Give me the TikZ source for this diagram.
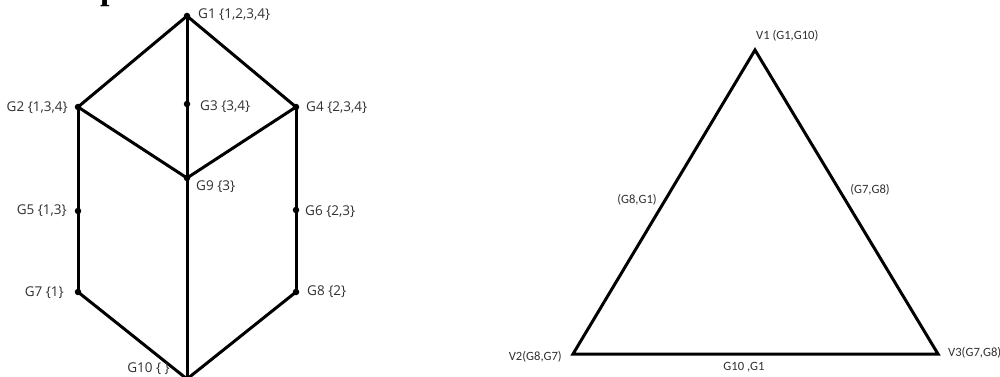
\documentclass[tikz,border=0pt]{standalone}
\usepackage{fontspec}
\setmainfont{Liberation Serif}
\newfontfamily\lblfont{Open Sans}
\newfontfamily\trifont{Carlito}
\definecolor{txt}{HTML}{303030}
\begin{document}
\begin{tikzpicture}[x=1pt,y=-1pt,
  edge/.style={line width=3pt,line cap=round,line join=round,black},
  vdot/.style={circle,fill=black,inner sep=0pt,minimum size=6.5pt},
  glbl/.style={inner sep=0pt,text=txt,font=\lblfont\fontsize{13.5}{16}\selectfont},
  tlbl/.style={inner sep=0pt,text=txt,font=\trifont\fontsize{12.6}{15}\selectfont}]
\useasboundingbox (0,0) rectangle (1000,377);
\clip (0,0) rectangle (1000,377);
% cut-off heading fragment
\node[anchor=base west,inner sep=0pt,font=\bfseries\fontsize{34}{40}\selectfont] (head) at (100,0) {p};
% left graph vertices
\node[vdot] (G1) at (187,16) {};
\node[vdot] (G2) at (78,107) {};
\node[vdot] (G3) at (187,104) {};
\node[vdot] (G4) at (296,107) {};
\node[vdot] (G9) at (187,178) {};
\node[vdot] (G5) at (78,211) {};
\node[vdot] (G6) at (296,210) {};
\node[vdot] (G7) at (78,292) {};
\node[vdot] (G8) at (296,292) {};
\coordinate (G10) at (187,379);
% edges
\draw[edge] (G1.center) -- (G2.center);
\draw[edge] (G1.center) -- (G4.center);
\draw[edge] (G1.center) -- (G3.center) -- (G9.center);
\draw[edge] (G2.center) -- (G9.center);
\draw[edge] (G4.center) -- (G9.center);
\draw[edge] (G2.center) -- (G5.center) -- (G7.center);
\draw[edge] (G4.center) -- (G6.center) -- (G8.center);
\draw[edge] (G9.center) -- (G10);
\draw[edge] (G7.center) -- (G10);
\draw[edge] (G8.center) -- (G10);
% labels
\node[glbl,anchor=west] (l1) at (198,15) {G1 \{1,2,3,4\}};
\node[glbl,anchor=east] (l2) at (68,108) {G2 \{1,3,4\}};
\node[glbl,anchor=west] (l3) at (200,107) {G3 \{3,4\}};
\node[glbl,anchor=west] (l4) at (306,108) {G4 \{2,3,4\}};
\node[glbl,anchor=west] (l9) at (196,187) {G9 \{3\}};
\node[glbl,anchor=east] (l5) at (67,211) {G5 \{1,3\}};
\node[glbl,anchor=west] (l6) at (305,212) {G6 \{2,3\}};
\node[glbl,anchor=east] (l7) at (64,293) {G7 \{1\}};
\node[glbl,anchor=west] (l8) at (307,292) {G8 \{2\}};
\node[glbl,anchor=east] (l10) at (170,369) {G10 \{ \}};
% triangle
\coordinate (V1) at (755,50);
\coordinate (V2) at (573,354);
\coordinate (V3) at (938,354);
\draw[edge,line cap=butt,line join=miter] (V1) -- (V2) -- (V3) -- cycle;
\node[tlbl,anchor=west] (t1) at (756,36) {V1 (G1,G10)};
\node[tlbl,anchor=east] (t2) at (562,357) {V2(G8,G7)};
\node[tlbl,anchor=west] (t3) at (948,353) {V3(G7,G8)};
\node[tlbl,anchor=center] (t4) at (744,367) {G10 ,G1};
\node[tlbl,anchor=center] (t5) at (637,200) {(G8,G1)};
\node[tlbl,anchor=center] (t6) at (870,190) {(G7,G8)};
\end{tikzpicture}
\end{document}
